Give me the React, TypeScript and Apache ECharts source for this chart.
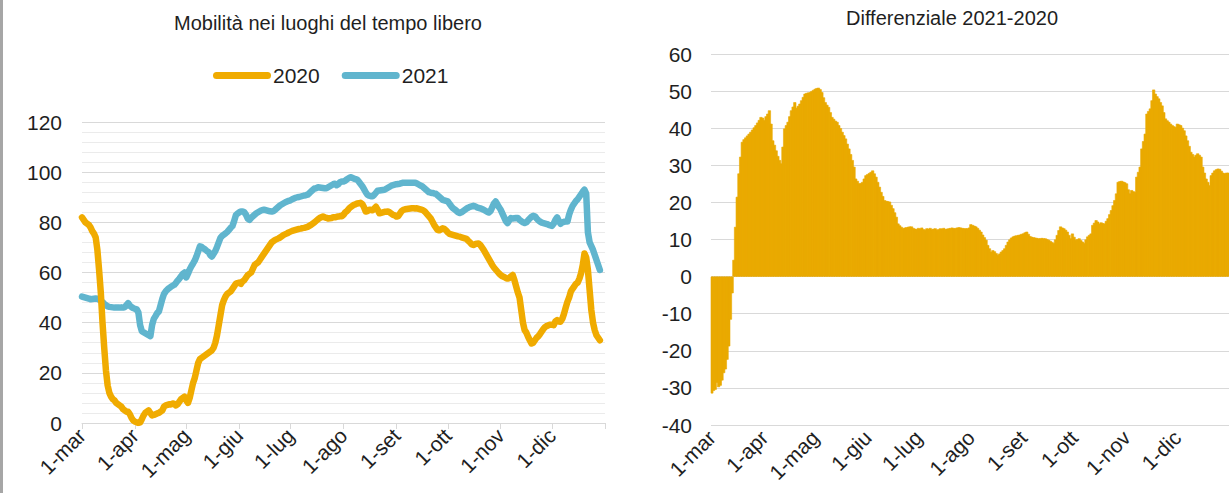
import React, { useEffect, useRef } from "react";
import * as echarts from "echarts";

const monthNames = ["mar", "apr", "mag", "giu", "lug", "ago", "set", "ott", "nov", "dic"];
const monthDays = [31, 30, 31, 30, 31, 31, 30, 31, 30, 31];

const y2020 = [
  82, 81, 80, 79.5, 79, 78, 76.5, 75.5, 74, 69,
  61, 52, 40, 30, 21, 15, 12, 10.5, 9.5, 9,
  8, 7.5, 7, 6.5, 5.5, 5, 4.5, 4.5, 3.5, 2,
  1, 0.5, 0.3, 0, 0.2, 1.5, 3, 4, 4.5, 5,
  4, 3, 3.2, 3.5, 3.8, 4, 4.5, 5, 6.5, 7,
  7.2, 7.5, 7.4, 7.8, 7.6, 7, 7.5, 8.5, 9.5, 10,
  10.5, 9, 8, 10, 13, 16, 18, 21, 24, 25.5,
  26, 26.5, 27, 27.5, 28, 28.5, 29, 30, 32, 35,
  39, 43, 47, 49, 50.5, 51.5, 52, 52.5, 53.5, 54.5,
  55.5, 55.8, 56, 55.5, 56.5, 57, 58, 59, 59.5, 60,
  61.5, 63, 63.5, 64, 65, 66, 67, 68, 69, 70,
  71, 72, 72.5, 73, 73.3, 73.6, 74, 74.5, 75, 75.3,
  75.6, 76, 76.3, 76.6, 76.8, 77, 77.2, 77.4, 77.5, 77.7,
  77.8, 78, 78.2, 78.6, 79, 79.5, 80, 80.6, 81.2, 81.7,
  82, 82.3, 82, 81.8, 81.5, 81.6, 81.7, 82, 82, 82.2,
  82.3, 82.5, 82.4, 83, 84, 84.5, 85.3, 86, 86.5, 87,
  87.2, 87.5, 87.6, 87.8, 87.3, 86, 84.3, 84.5, 85, 85,
  84.8, 85.5, 86.2, 85, 83.6, 83.8, 84, 84.2, 84.2, 84.3,
  84, 83.5, 83, 82.8, 82.3, 82.5, 83.5, 84.5, 85, 85.2,
  85.3, 85.4, 85.5, 85.6, 85.6, 85.5, 85.6, 85.4, 85.2, 85,
  84.6, 84, 83.2, 82.4, 81.6, 80.3, 79, 78, 77, 76.8,
  77.2, 77.6, 77.4, 76.8, 76, 75.4, 75.2, 75, 74.8, 74.6,
  74.4, 74.3, 74, 73.8, 73.6, 73.4, 72.6, 72, 71.2, 71,
  71.3, 71.5, 71.6, 71, 70, 69, 67.8, 66.6, 65.4, 64.2,
  63, 62, 61.2, 60.4, 59.6, 59, 58.5, 58.2, 57.8, 57.6,
  57.8, 58.5, 59, 57, 54.5, 52, 50, 45, 40, 37,
  36, 34.4, 33, 31.7, 32, 33, 34, 34.6, 35.5, 36.5,
  37.5, 38.3, 38.7, 39, 39.2, 39.2, 39, 40.5, 41, 40.5,
  40.4, 41.5, 43.5, 46, 48.3, 50, 52.4, 53.5, 54.5, 55.5,
  56, 57.5, 59.7, 63, 67.6, 66, 61, 53, 45, 40,
  37, 35, 34, 33,
];

const y2021 = [
  50.4, 50.2, 50, 49.8, 49.6, 49.3, 49.4, 49.5, 49.6, 49.5,
  49.2, 48.8, 48.2, 47.5, 47, 46.5, 46.3, 46.2, 46.1, 46,
  46, 46, 46, 46.1, 46, 46.2, 47, 47.8, 46.8, 46.2,
  45.8, 45.5, 45.3, 44, 39, 36.6, 36.2, 35.8, 35.4, 35,
  34.6, 39, 41.5, 42.6, 43.8, 44.5, 47, 49.5, 51.5, 52.5,
  53.2, 53.8, 54.3, 54.7, 55.1, 55.9, 56.8, 57.6, 58.5, 59.5,
  60, 58, 59.5, 61.2, 62.5, 63.6, 64.8, 66.5, 68.5, 70.4,
  70.2, 69.6, 69.2, 68.6, 68.2, 67, 66.4, 67.5, 68.6, 70.2,
  72, 73.8, 74.6, 75.1, 75.6, 76.2, 77, 77.8, 78.5, 80.5,
  82.8, 83.5, 84, 84.3, 84.3, 84, 83, 81.5, 81, 81.8,
  82.4, 83, 83.6, 84, 84.4, 84.8, 85, 85, 84.8, 84.6,
  84.4, 84.3, 84.5, 85, 85.6, 86.2, 86.8, 87.2, 87.6, 88,
  88.3, 88.6, 88.8, 89.2, 89.5, 89.8, 90, 90.1, 90.3, 90.5,
  90.7, 90.8, 91, 91.6, 92.3, 92.9, 93.5, 93.6, 94, 93.9,
  93.8, 93.7, 93.6, 93.6, 94, 94.4, 94.8, 95.2, 95.4, 94.8,
  95.2, 96, 96.3, 96.3, 96.6, 97.2, 97.6, 98, 97.8, 97.5,
  97.2, 97, 96.2, 95.3, 94.4, 93.2, 92, 91, 90.6, 90.4,
  90.4, 91, 91.8, 92.6, 92.7, 92.8, 92.9, 93, 93.4, 93.8,
  94.2, 94.6, 94.8, 95, 95.2, 95.3, 95.4, 95.6, 95.8, 95.8,
  95.8, 95.8, 95.8, 95.8, 95.8, 95.8, 95.5, 95.1, 94.7, 94.4,
  93.8, 93.2, 92.6, 92, 91.8, 91.7, 91.5, 91.4, 90.8, 90.2,
  89.6, 89, 88.8, 88.6, 88.4, 87.4, 86.5, 85.7, 85.2, 84.6,
  84, 83.7, 84, 84.5, 85, 85.5, 85.8, 86.2, 86.4, 86.6,
  86.4, 86, 85.8, 85.6, 85.3, 85, 84.6, 84.2, 83.9, 84.5,
  86, 87.5, 88.3, 87.2, 86, 85, 83.5, 82, 80.5, 79.7,
  80.8, 81.7, 81.5, 81.6, 81.7, 81.7, 81, 80.5, 80, 79.7,
  80, 80.8, 81.5, 82.2, 82.6, 82.4, 81.5, 80.8, 80.3, 79.9,
  79.7, 79.5, 79.3, 79, 78.8, 78.6, 79.5, 81, 82, 80.5,
  79.4, 80, 80.2, 80.3, 80.3, 83, 85, 86.5, 87.5, 88.5,
  89.2, 90.2, 91.2, 92.2, 93, 91.5, 76, 72, 70.5, 69,
  67, 65, 63, 61,
];

const diff = [
  -31.5, -30.8, -30.5, -28.6, -29.8, -29.4, -28, -26, -25, -22.4,
  -18.8, -11.6, -4.5, 4.5, 13.4, 21.5, 27.8, 32.3, 36.3, 37,
  37.5, 38, 38.5, 39, 39.6, 40.2, 40.8, 41.5, 42.2, 43,
  42.8, 42.2, 43.2, 43.9, 44.8, 41.2, 36.7, 35.5, 34, 32.5,
  31.4, 30.5, 35, 39.9, 40.8, 41.7, 43.2, 44.8, 45.8, 47,
  45.5, 46, 46.6, 47.5, 48.4, 49.3, 49.5, 49.6, 49.7, 50,
  50.3, 50.6, 50.8, 50.9, 50.5, 49.7, 48.3, 47, 46.3, 45.7,
  44.3, 43, 42.5, 42, 41.7, 40.8, 40, 39, 38.1, 37.2,
  35.8, 34.5, 33, 31.4, 29.6, 26.4, 25.8, 25.1, 25.2, 25.5,
  26.4, 27.3, 27.6, 27.9, 28.2, 28.6, 27.8, 26.9, 25.5, 24.2,
  22.8, 21.7, 20.6, 20.4, 20.3, 20.2, 19.3, 18.4, 17.3, 16.1,
  14.3, 13.8, 13.4, 13, 13.2, 13.3, 13.4, 13.5, 13.5, 13.1,
  12.9, 12.8, 13.1, 12.9, 13.2, 12.8, 12.6, 13, 12.9, 13.1,
  12.7, 12.9, 13, 12.6, 12.8, 13, 12.9, 13.1, 12.8, 12.9,
  13, 13.1, 13.2, 13, 13.1, 13.2, 13.3, 13.2, 13.1, 13,
  13, 13, 13.2, 14.1, 13.9, 13.7, 13.5, 13.1, 12.6, 12.1,
  11.3, 10.6, 9.9, 8.5, 7.6, 6.7, 7.1, 6.8, 6.3, 5.8,
  6.2, 6.7, 7.1, 7.6, 8.5, 9.4, 10, 10.5, 10.8, 11,
  11.1, 11.2, 11.3, 11.5, 11.6, 11.9, 12.1, 11.5, 10.9, 10.7,
  10.6, 10.5, 10.4, 10.3, 10.3, 10.4, 10.3, 10.3, 10.1, 9.9,
  9.6, 9.3, 9, 10, 11.2, 12.5, 13.5, 13.2, 13, 12.6,
  12.1, 11.2, 10.3, 11.6, 10.7, 9.9, 10.1, 10.3, 9.8, 9.4,
  9, 10, 10.8, 11.2, 11.6, 13.9, 14.5, 15.2, 14.8, 14.3,
  14.6, 14.4, 14.3, 15, 15.7, 16.8, 17.9, 19.2, 20.6, 22.4,
  25.5, 25.7, 25.8, 25.6, 25.4, 25.1, 23.5, 22.4, 23.3, 23,
  22.8, 26.9, 28.2, 29.6, 34.5, 36.5, 38.5, 43.9, 44.6, 45.3,
  47.5, 50.4, 49.3, 48.6, 48, 47, 46.1, 44.3, 42.6, 42.1,
  41.7, 41.2, 40.8, 40.5, 40.3, 41.2, 41, 40.8, 40.1, 39.4,
  38, 36.7, 35.2, 33.6, 33, 32.3, 32.8, 33.2, 32.8, 32.3,
  29.6, 28, 26.4, 25.5, 24.6, 27.3, 28, 28.6, 28.9, 29.1,
  29, 28.5, 28, 27.8, 28, 28,
];

const leftTicks = [0, 20, 40, 60, 80, 100, 120];
const rightTicks = [-40, -30, -20, -10, 0, 10, 20, 30, 40, 50, 60];

const FONT = "'Liberation Sans', Arial, sans-serif";
const TXT = "#1f1f1f";
const GRID = "#d9d9d9";
const C2020 = "#F0AB00";
const C2021 = "#60B5CE";
const CBAR = "#EAAA00";

function buildDays() {
  const cats: string[] = [];
  const starts = new Set<number>();
  monthNames.forEach((m, i) => {
    starts.add(cats.length);
    for (let d = 1; d <= monthDays[i]; d++) cats.push(`${d}-${m}`);
  });
  return { cats, starts };
}

export default function App() {
  const ref = useRef<HTMLDivElement>(null);
  useEffect(() => {
    if (!ref.current) return;
    const chart = echarts.init(ref.current, null, { renderer: "svg" });
    const { cats, starts } = buildDays();
    const endIndex = cats.length;
    const leftCats = [...cats, "1-gen"];
    const tickSet = new Set<number>([...starts, endIndex]);

    const xLabel = {
      rotate: 45,
      fontSize: 21,
      fontFamily: FONT,
      color: TXT,
      margin: 9,
    };
    const yLabel = { fontSize: 21, fontFamily: FONT, color: TXT };

    chart.setOption({
      animation: false,
      backgroundColor: "#ffffff",
      textStyle: { fontFamily: FONT },
      title: [
        {
          text: "Mobilità nei luoghi del tempo libero",
          left: 169,
          top: 8,
          textStyle: { fontSize: 20, fontWeight: "normal", color: TXT, fontFamily: FONT },
        },
        {
          text: "Differenziale 2021-2020",
          left: 841,
          top: 3,
          textStyle: { fontSize: 20, fontWeight: "normal", color: TXT, fontFamily: FONT },
        },
      ],
      legend: {
        data: ["2020", "2021"],
        left: 208,
        top: 60,
        itemWidth: 58,
        itemHeight: 7,
        itemGap: 22,
        icon: "path://M3.5,0 L54.5,0 A3.5,3.5 0 0 1 54.5,7 L3.5,7 A3.5,3.5 0 0 1 3.5,0 Z",
        textStyle: { fontSize: 21, fontFamily: FONT, color: TXT, padding: [0, 0, 0, -3] },
      },
      graphic: [
        { type: "rect", left: 0, top: 0, shape: { x: 0, y: 0, width: 3, height: 493 }, style: { fill: "#a6a6a6" } },
      ],
      grid: [
        { left: 82, top: 122, width: 523, height: 301 },
        { left: 711, top: 54, width: 520, height: 371 },
      ],
      xAxis: [
        {
          gridIndex: 0,
          type: "category",
          data: leftCats,
          boundaryGap: false,
          axisLine: { show: true, lineStyle: { color: GRID, width: 1 } },
          axisTick: {
            show: true,
            length: 6,
            interval: (i: number) => tickSet.has(i),
            lineStyle: { color: GRID },
          },
          axisLabel: { ...xLabel, interval: (i: number) => starts.has(i) },
          splitLine: { show: false },
        },
        {
          gridIndex: 1,
          type: "category",
          data: cats,
          boundaryGap: true,
          axisLine: { show: false, onZero: false },
          axisTick: { show: false },
          axisLabel: { ...xLabel, interval: (i: number) => starts.has(i) },
          splitLine: { show: false },
        },
      ],
      yAxis: [
        {
          gridIndex: 0,
          type: "value",
          min: leftTicks[0],
          max: leftTicks[leftTicks.length - 1],
          interval: 20,
          axisLine: { show: false },
          axisTick: { show: false },
          axisLabel: { ...yLabel, margin: 20 },
          splitLine: { lineStyle: { color: GRID, width: 1 } },
          minorTick: { show: false, splitNumber: 5 },
          minorSplitLine: { show: true, lineStyle: { color: "#ebebeb", width: 1 } },
        },
        {
          gridIndex: 1,
          type: "value",
          min: rightTicks[0],
          max: rightTicks[rightTicks.length - 1],
          interval: 10,
          axisLine: { show: false },
          axisTick: { show: false },
          axisLabel: { ...yLabel, margin: 19 },
          splitLine: { lineStyle: { color: GRID, width: 1 } },
        },
      ],
      series: [
        {
          name: "2020",
          type: "line",
          xAxisIndex: 0,
          yAxisIndex: 0,
          data: y2020,
          showSymbol: false,
          symbol: "none",
          color: C2020,
          lineStyle: { color: C2020, width: 6.5, cap: "round", join: "round" },
          z: 3,
        },
        {
          name: "2021",
          type: "line",
          xAxisIndex: 0,
          yAxisIndex: 0,
          data: y2021,
          showSymbol: false,
          symbol: "none",
          color: C2021,
          lineStyle: { color: C2021, width: 6.5, cap: "round", join: "round" },
          z: 2,
        },
        {
          name: "Differenziale",
          type: "bar",
          xAxisIndex: 1,
          yAxisIndex: 1,
          data: diff,
          barWidth: 3,
          itemStyle: { color: CBAR, borderColor: CBAR, borderWidth: 0.6 },
        },
      ],
    });
    return () => chart.dispose();
  }, []);
  return (
    <div
      ref={ref}
      style={{ position: "fixed", left: 0, top: 0, width: 1229, height: 493, background: "#fff" }}
    />
  );
}
